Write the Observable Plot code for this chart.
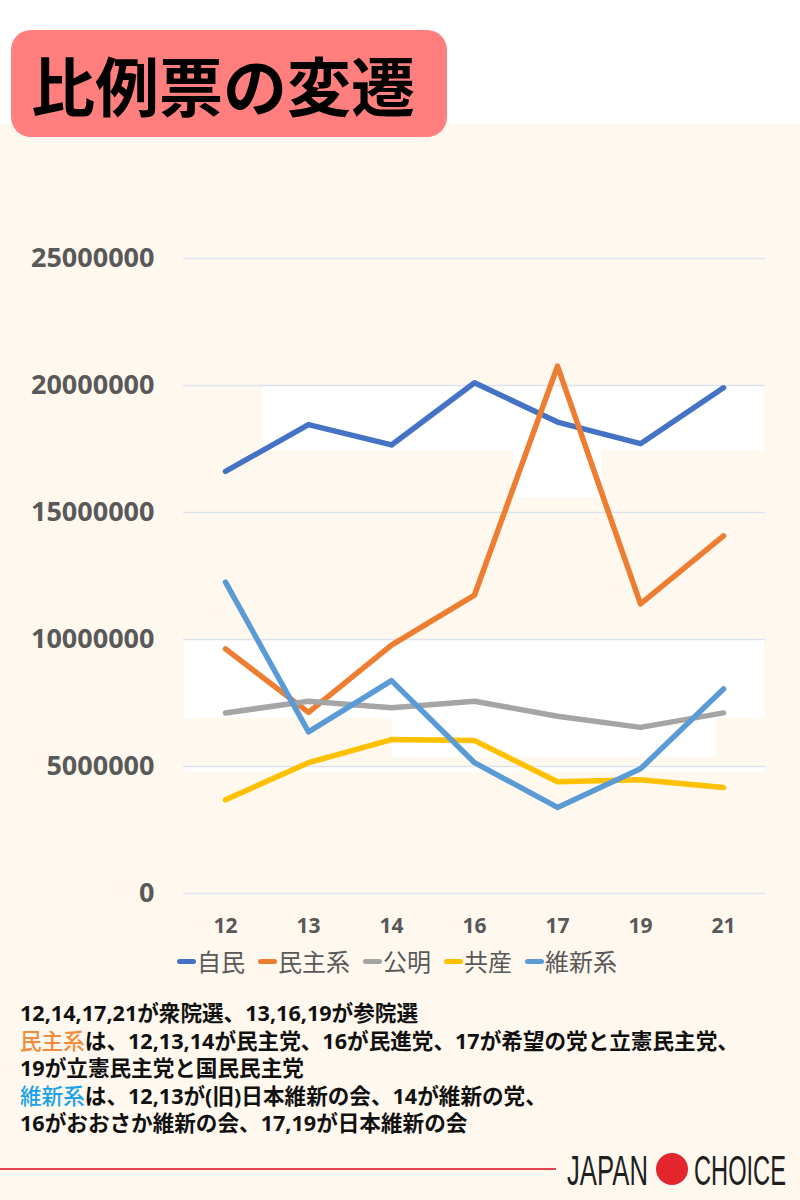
<!DOCTYPE html>
<html>
<head>
<meta charset="utf-8">
<script src="https://cdn.jsdelivr.net/npm/d3@7"></script>
<script src="https://cdn.jsdelivr.net/npm/@observablehq/plot@0.6"></script>
<style>
  html, body { margin: 0; padding: 0; }
  body { width: 800px; height: 1200px; position: relative; background: #ffffff; overflow: hidden;
         font-family: "Open Sans", "Noto Sans CJK JP", sans-serif; }
  #cream { position: absolute; left: 0; top: 124px; width: 800px; height: 1076px; background: #FFF8EE; }
  .patch { position: absolute; background: #FFFFFF; }
  #titlebox { position: absolute; left: 11px; top: 30px; width: 436px; height: 107px; background: #FF7F7F; border-radius: 20px; }
  #title { position: absolute; left: 31px; top: 43px; font-family: "Noto Sans CJK JP", sans-serif; font-weight: 700;
           font-size: 64px; line-height: 80px; color: #000; white-space: nowrap; }
  #chart { position: absolute; left: 0; top: 230px; }
  #legend { position: absolute; left: 177px; top: 944px; display: flex; align-items: center; white-space: nowrap;
            font-family: "Noto Sans CJK JP", sans-serif; font-size: 24px; color: #595959; line-height: 34px; }
  #legend .item { display: flex; align-items: center; margin-right: 13px; }
  #legend .sw { display: inline-block; width: 19px; height: 5px; border-radius: 3px; margin-right: 1px; }
  #notes { position: absolute; left: 20px; top: 999px; font-family: "Open Sans", "Noto Sans CJK JP", sans-serif;
           font-weight: 700; font-size: 21.6px; line-height: 27.5px; color: #111; white-space: nowrap; }
  #redline { position: absolute; left: 0; top: 1168px; width: 556px; height: 2px; background: #E0474C; }
  #logo { position: absolute; left: 555px; top: 1140px; }
</style>
</head>
<body>
<div id="cream"></div>
<div class="patch" style="left:262px;top:386px;width:502px;height:64px"></div>
<div class="patch" style="left:513px;top:450px;width:88px;height:47px"></div>
<div class="patch" style="left:184px;top:640px;width:580px;height:78px"></div>
<div class="patch" style="left:392px;top:718px;width:324px;height:39px"></div>
<div class="patch" style="left:184px;top:767px;width:580px;height:5px"></div>
<div id="titlebox"></div>
<div id="title">比例票の変遷</div>
<div id="chart"></div>
<div id="legend"></div>
<div id="notes"></div>
<div id="redline"></div>
<svg id="logo" width="240" height="60"></svg>
<script>
// ---- data ----
const years = ["12", "13", "14", "16", "17", "19", "21"];
const seriesNames = ["自民", "民主系", "公明", "共産", "維新系"];
const seriesColors = ["#4472C4", "#ED7D31", "#A5A5A5", "#FFC000", "#5B9BD5"];
const jimin   = [16620000, 18460000, 17660000, 20110000, 18560000, 17710000, 19910000];
const minshu  = [ 9630000,  7130000,  9780000, 11750000, 20760000, 11400000, 14080000];
const komei   = [ 7110000,  7570000,  7310000,  7570000,  6980000,  6540000,  7110000];
const kyosan  = [ 3690000,  5150000,  6060000,  6020000,  4400000,  4480000,  4170000];
const ishin   = [12260000,  6360000,  8380000,  5150000,  3390000,  4910000,  8050000];
const yTicks  = [0, 5000000, 10000000, 15000000, 20000000, 25000000];
const noteLines = [
  [{t: "12,14,17,21が衆院選、13,16,19が参院選"}],
  [{t: "民主系", c: "#F28C3C"}, {t: "は、12,13,14が民主党、16が民進党、17が希望の党と立憲民主党、"}],
  [{t: "19が立憲民主党と国民民主党"}],
  [{t: "維新系", c: "#1AA3EA"}, {t: "は、12,13が(旧)日本維新の会、14が維新の党、"}],
  [{t: "16がおおさか維新の会、17,19が日本維新の会"}]
];

const allValues = [jimin, minshu, komei, kyosan, ishin];
const rows = [];
seriesNames.forEach((s, i) => {
  years.forEach((y, j) => rows.push({series: s, year: y, value: allValues[i][j]}));
});

const chart = Plot.plot({
  width: 800,
  height: 720,
  marginLeft: 183,
  marginRight: 35,
  marginTop: 28,
  marginBottom: 57,
  style: {background: "transparent", overflow: "visible"},
  x: {type: "point", domain: years, padding: 0.5, label: null},
  y: {domain: [0, 25000000], label: null},
  color: {domain: seriesNames, range: seriesColors},
  marks: [
    Plot.gridY(yTicks, {stroke: "#DDE3EE", strokeOpacity: 1, strokeWidth: 1.3}),
    Plot.axisY(yTicks, {tickSize: 0, tickPadding: 29, tickFormat: d => String(d), label: null,
      fontSize: 27, fontWeight: 700, fill: "#595959", fontFamily: "Open Sans"}),
    Plot.axisX({tickSize: 0, tickPadding: 25, label: null,
      fontSize: 21, fontWeight: 700, fill: "#595959", fontFamily: "Open Sans"}),
    Plot.line(rows, {x: "year", y: "value", z: "series", stroke: "series", strokeWidth: 5.5,
      strokeLinecap: "round", strokeLinejoin: "round"})
  ]
});
document.getElementById("chart").appendChild(chart);

// legend
const legend = document.getElementById("legend");
seriesNames.forEach((s, i) => {
  const item = document.createElement("div");
  item.className = "item";
  const sw = document.createElement("span");
  sw.className = "sw";
  sw.style.background = seriesColors[i];
  const tx = document.createElement("span");
  tx.textContent = s;
  item.appendChild(sw); item.appendChild(tx);
  legend.appendChild(item);
});

// notes
const notes = document.getElementById("notes");
noteLines.forEach(line => {
  const div = document.createElement("div");
  line.forEach(seg => {
    const sp = document.createElement("span");
    sp.textContent = seg.t;
    if (seg.c) { sp.style.color = seg.c; sp.style.fontWeight = 500; }
    div.appendChild(sp);
  });
  notes.appendChild(div);
});

// logo: condensed lettering via horizontal scaling
const logo = d3.select("#logo");
function condensed(str, x, targetW) {
  const g = logo.append("g");
  const t = g.append("text").attr("x", 0).attr("y", 0)
    .attr("font-family", "Liberation Sans, sans-serif").attr("font-size", 42)
    .attr("fill", "#1f1f1f").text(str);
  const w = t.node().getComputedTextLength();
  g.attr("transform", `translate(${x},45) scale(${targetW / w},1)`);
}
condensed("JAPAN", 12, 81);
logo.append("circle").attr("cx", 117).attr("cy", 29).attr("r", 16).attr("fill", "#E3262E");
condensed("CHOICE", 139, 92);
</script>
</body>
</html>
